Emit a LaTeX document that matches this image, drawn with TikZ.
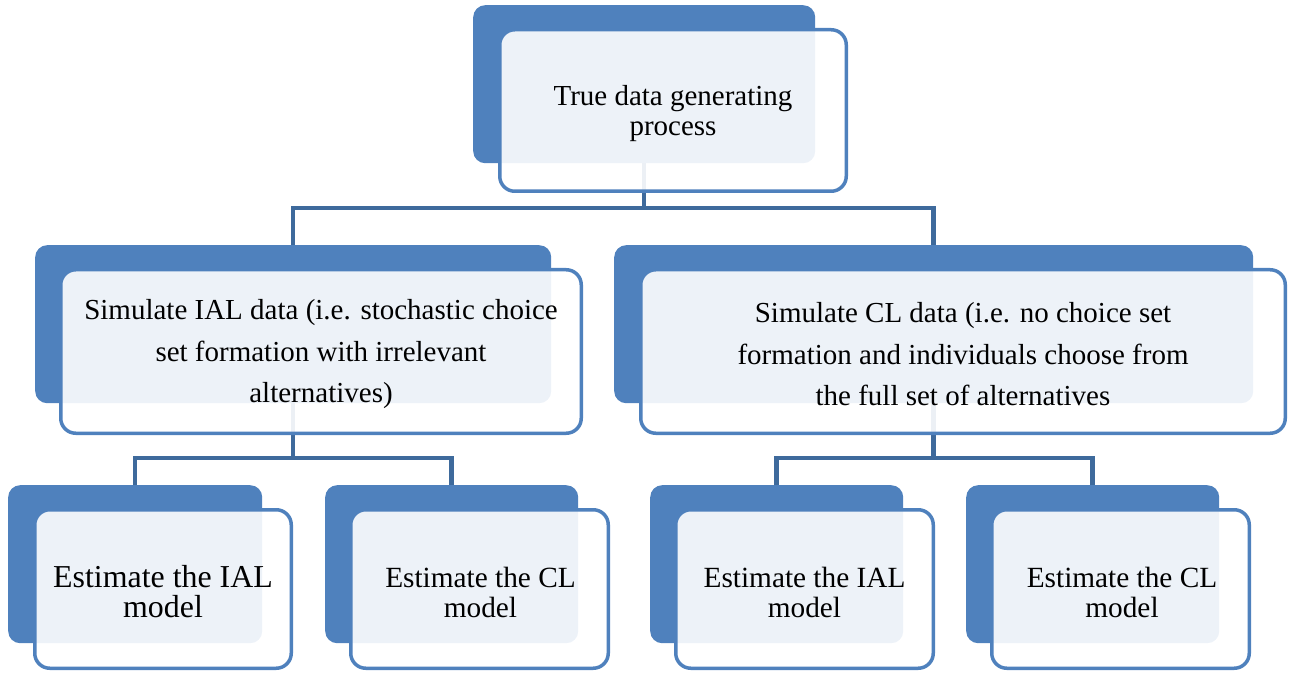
\documentclass[tikz,border=0pt]{standalone}
\usepackage{fontspec}
\setmainfont{Liberation Serif}
\definecolor{dkblue}{HTML}{4F81BD}
\definecolor{brd}{HTML}{4F81BD}
\definecolor{conncol}{HTML}{3E6A9C}
\tikzset{
  backbox/.style={draw=none, fill=dkblue, rounded corners=12pt, anchor=north west, inner sep=0pt},
  frontbox/.style={draw=brd, line width=3.5pt, fill=white, fill opacity=0.9,
    rounded corners=15pt, anchor=center, inner sep=0pt},
  conn/.style={draw=conncol, line width=4.5pt, line join=miter},
  lbl/.style={align=center, inner sep=0pt, text=black},
  txtA/.style={lbl, font=\fontsize{29}{30}\selectfont},
  txtD/.style={lbl, font=\fontsize{29.3}{30}\selectfont},
  txtB/.style={lbl, font=\fontsize{29}{41.5}\selectfont},
  txtC/.style={lbl, font=\fontsize{31.9}{30}\selectfont}
}
\begin{document}
\begin{tikzpicture}[x=1pt,y=-1pt]
\useasboundingbox (0,0) rectangle (1295,676);
% back boxes
\node[backbox, minimum width=342pt, minimum height=158pt] (d0) at (473,5) {};
\node[backbox, minimum width=516pt, minimum height=158pt] (d1) at (35,245) {};
\node[backbox, minimum width=639pt, minimum height=158pt] (d2) at (614,245) {};
\node[backbox, minimum width=254pt, minimum height=158pt] (d3) at (8,485) {};
\node[backbox, minimum width=253pt, minimum height=158pt] (d4) at (325,485) {};
\node[backbox, minimum width=253pt, minimum height=158pt] (d5) at (650,485) {};
\node[backbox, minimum width=253pt, minimum height=158pt] (d6) at (966,485) {};
% junctions
\coordinate (j0) at (644,208);
\coordinate (j1) at (293,458);
\coordinate (j2) at (933.5,458);
% connectors
\draw[conn] (d0.south) -- (d0.south |- j0);
\draw[conn] (d1.north) |- (d0.south |- j0) -| (d2.north);
\draw[conn] (d1.south) -- (d1.south |- j1);
\draw[conn] (d3.north) |- (d1.south |- j1) -| (d4.north);
\draw[conn] (d2.south) -- (d2.south |- j2);
\draw[conn] (d5.north) |- (d2.south |- j2) -| (d6.north);
% front boxes
\node[frontbox, minimum width=346.5pt, minimum height=161.5pt] (f0) at (673,110.5) {};
\node[frontbox, minimum width=520.5pt, minimum height=163.5pt] (f1) at (321,351.5) {};
\node[frontbox, minimum width=644.5pt, minimum height=163.5pt] (f2) at (963,351.5) {};
\node[frontbox, minimum width=256.5pt, minimum height=158.5pt] (f3) at (163,589) {};
\node[frontbox, minimum width=257.5pt, minimum height=158.5pt] (f4) at (479.5,589) {};
\node[frontbox, minimum width=257.5pt, minimum height=158.5pt] (f5) at (804.5,589) {};
\node[frontbox, minimum width=257.5pt, minimum height=158.5pt] (f6) at (1120.5,589) {};
% texts
\node[txtA] (t0) at ([yshift=-3.5pt]f0.center) {True data generating\\process};
\node[txtB] (t1) at ([yshift=-3pt]f1.center) {Simulate IAL data (i.e. stochastic choice\\set formation with irrelevant\\alternatives)};
\node[txtB] (t2) at ([yshift=-3pt]f2.center) {Simulate CL data (i.e. no choice set\\formation and individuals choose from\\the full set of alternatives};
\node[txtC] (t3) at ([yshift=-3pt]f3.center) {Estimate the IAL\\model};
\node[txtD] (t4) at ([xshift=1pt,yshift=-3pt]f4.center) {Estimate the CL\\model};
\node[txtD] (t5) at ([yshift=-3pt]f5.center) {Estimate the IAL\\model};
\node[txtD] (t6) at ([xshift=1.5pt,yshift=-3pt]f6.center) {Estimate the CL\\model};
\end{tikzpicture}
\end{document}
